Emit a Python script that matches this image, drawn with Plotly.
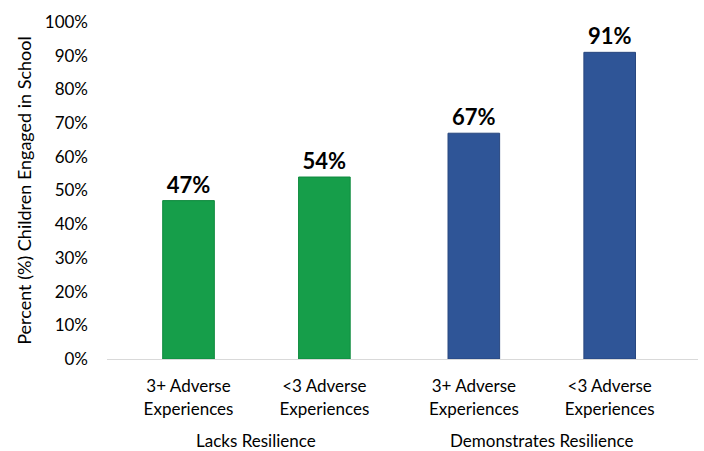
import plotly.graph_objects as go

categories = ["3+ Adverse<br>Experiences", "<3 Adverse<br>Experiences",
              "3+ Adverse<br>Experiences", "<3 Adverse<br>Experiences"]
groups = ["Lacks Resilience", "Lacks Resilience",
          "Demonstrates Resilience", "Demonstrates Resilience"]
values = [47, 54, 67, 91]
y_ticks = [0, 10, 20, 30, 40, 50, 60, 70, 80, 90, 100]

GREEN, GREEN_LINE = "#169E4A", "#0F8A3E"
BLUE, BLUE_LINE = "#2F5597", "#28477F"

# x positions: one unit per bar, with a little extra gap between groups
group_order = []
for g in groups:
    if g not in group_order:
        group_order.append(g)
xpos = [i + 0.1 * group_order.index(g) for i, g in enumerate(groups)]

colors = [GREEN if group_order.index(g) == 0 else BLUE for g in groups]
lines = [GREEN_LINE if group_order.index(g) == 0 else BLUE_LINE for g in groups]

FONT = "Lato, 'Open Sans', sans-serif"

fig = go.Figure()
fig.add_trace(go.Bar(
    x=xpos, y=values, width=0.38,
    marker=dict(color=colors, line=dict(color=lines, width=1)),
    text=[f"{v}%" for v in values], textposition="outside",
    textfont=dict(family=FONT, size=22, color="#000000", weight="bold"),
    cliponaxis=False, hoverinfo="skip",
))

# group labels
for g in group_order:
    xs = [x for x, gg in zip(xpos, groups) if gg == g]
    fig.add_annotation(x=sum(xs) / len(xs), xref="x", y=0, yref="paper",
                       yanchor="middle", yshift=-81, text=g, showarrow=False,
                       font=dict(family=FONT, size=17, color="#000000"))

fig.update_layout(
    width=704, height=451,
    margin=dict(l=107, r=6, t=22, b=92),
    plot_bgcolor="white", paper_bgcolor="white",
    showlegend=False,
    font=dict(family=FONT, size=17, color="#000000"),
    xaxis=dict(range=[-0.6, 3.75], tickmode="array", tickvals=xpos,
               ticktext=categories, showgrid=False, zeroline=False,
               showline=True, linecolor="#D9D9D9", linewidth=1,
               ticks="", ticklabelstandoff=12,
               tickfont=dict(family=FONT, size=17, color="#000000")),
    yaxis=dict(range=[0, 100], tickmode="array", tickvals=y_ticks,
               ticktext=[f"{t}%" for t in y_ticks], showgrid=False,
               zeroline=False, showline=False, ticks="",
               ticklabelstandoff=18,
               tickfont=dict(family=FONT, size=17, color="#000000"),
               title=dict(text="Percent (%) Children Engaged in School",
                          font=dict(family=FONT, size=18, color="#000000"),
                          standoff=8)),
)

fig.write_html("out.html")
